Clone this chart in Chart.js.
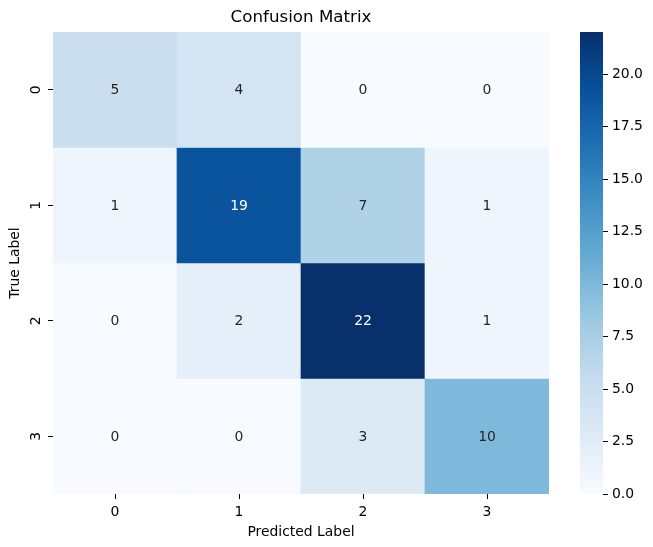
<!DOCTYPE html>
<html>
<head>
<meta charset="utf-8">
<script src="https://cdn.jsdelivr.net/npm/chart.js@4.4.1/dist/chart.umd.min.js"></script>
<style>
  html, body { margin: 0; padding: 0; background: #fff; }
  #wrap { position: relative; width: 653px; height: 547px; }
  #heat { position: absolute; left: 0; top: 0; }
  #cbar { position: absolute; left: 560px; top: 0; }
</style>
</head>
<body>
<div id="wrap">
  <canvas id="heat" width="602" height="547"></canvas>
  <canvas id="cbar" width="93" height="547"></canvas>
</div>
<script>
// confusion matrix data
const predLabels = ['0', '1', '2', '3'];
const trueLabels = ['0', '1', '2', '3'];
const row0 = [5, 4, 0, 0];
const row1 = [1, 19, 7, 1];
const row2 = [0, 2, 22, 1];
const row3 = [0, 0, 3, 10];
const matrix = [row0, row1, row2, row3];
const vmin = 0;
const vmax = 22;
const cbarTicks = [0, 2.5, 5, 7.5, 10, 12.5, 15, 17.5, 20];

// matplotlib "Blues"
const blues = ['#f7fbff', '#deebf7', '#c6dbef', '#9ecae1', '#6baed6', '#4292c6', '#2171b5', '#08519c', '#08306b'];

function hexToRgb(h) {
    return [parseInt(h.slice(1, 3), 16), parseInt(h.slice(3, 5), 16), parseInt(h.slice(5, 7), 16)];
}
function cmapRgb(v) {
    let t = (v - vmin) / (vmax - vmin);
    t = Math.max(0, Math.min(1, t));
    const pos = t * (blues.length - 1);
    const i = Math.min(Math.floor(pos), blues.length - 2);
    const f = pos - i;
    const a = hexToRgb(blues[i]), b = hexToRgb(blues[i + 1]);
    return a.map((c, k) => Math.round(c + (b[k] - c) * f));
}
function cmap(v) {
    const c = cmapRgb(v);
    return `rgb(${c[0]}, ${c[1]}, ${c[2]})`;
}
// seaborn picks the annotation colour from the luminance of the cell
function textColor(v) {
    const lin = cmapRgb(v).map(c => {
        c = c / 255;
        return c <= 0.03928 ? c / 12.92 : Math.pow((c + 0.055) / 1.055, 2.4);
    });
    const lum = 0.2126 * lin[0] + 0.7152 * lin[1] + 0.0722 * lin[2];
    return lum > 0.408 ? '#262626' : '#ffffff';
}

const FONT = 'DejaVu Sans';

const datasets = matrix.map((row, i) => ({
    label: 'true ' + trueLabels[i],
    data: row.map(() => [i, i + 1]),
    values: row,
    backgroundColor: row.map(v => cmap(v)),
    borderWidth: 0,
    grouped: false,
    barPercentage: 1,
    categoryPercentage: 1
}));

// writes the count inside each cell
const cellText = {
    id: 'cellText',
    afterDatasetsDraw(chart) {
        const ctx = chart.ctx;
        ctx.save();
        ctx.font = `13.9px "${FONT}"`;
        ctx.textAlign = 'center';
        ctx.textBaseline = 'middle';
        chart.data.datasets.forEach((ds, i) => {
            chart.getDatasetMeta(i).data.forEach((bar, j) => {
                const v = ds.values[j];
                ctx.fillStyle = textColor(v);
                ctx.fillText(String(v), bar.x, (bar.y + bar.base) / 2 + 1);
            });
        });
        ctx.restore();
    }
};

new Chart(document.getElementById('heat'), {
    type: 'bar',
    data: { labels: predLabels, datasets: datasets },
    options: {
        responsive: false,
        animation: false,
        layout: { padding: 0 },
        plugins: {
            legend: { display: false },
            tooltip: { enabled: false },
            title: {
                display: true,
                text: 'Confusion Matrix',
                color: '#000',
                font: { family: FONT, size: 16.7, weight: 'normal' },
                padding: { top: 8, bottom: 4 }
            }
        },
        scales: {
            x: {
                offset: true,
                grid: { offset: false, drawOnChartArea: false, drawTicks: true, tickLength: 5, tickColor: '#000' },
                border: { display: false },
                ticks: { color: '#000', font: { family: FONT, size: 13.9 }, padding: 5 },
                title: {
                    display: true, text: 'Predicted Label', color: '#000',
                    font: { family: FONT, size: 13.9 }, padding: { top: 2, bottom: 6 }
                },
                afterFit(scale) { scale.height = 53; }
            },
            y: {
                reverse: true,
                min: 0,
                max: trueLabels.length,
                grid: { drawOnChartArea: false, drawTicks: true, tickLength: 5, tickColor: '#000' },
                border: { display: false },
                afterBuildTicks(scale) {
                    scale.ticks = trueLabels.map((l, i) => ({ value: i + 0.5 }));
                },
                ticks: {
                    color: '#000', font: { family: FONT, size: 13.9 }, padding: 7,
                    minRotation: 90, maxRotation: 90, crossAlign: 'center',
                    callback: (v) => trueLabels[Math.floor(v)]
                },
                title: {
                    display: true, text: 'True Label', color: '#000',
                    font: { family: FONT, size: 13.9 }, padding: { top: 7, bottom: 2 }
                },
                afterFit(scale) { scale.width = 53; }
            },
            // empty right axis keeps room for the colour bar so the title centres over the cells
            yGap: {
                axis: 'y',
                position: 'right',
                grid: { display: false },
                border: { display: false },
                ticks: { display: false },
                afterFit(scale) { scale.width = 53; }
            }
        }
    },
    plugins: [cellText]
});

// colour bar
new Chart(document.getElementById('cbar'), {
    type: 'bar',
    data: {
        labels: [''],
        datasets: [{
            data: [[vmin, vmax]],
            backgroundColor(c) {
                const area = c.chart.chartArea;
                if (!area) return blues[0];
                const g = c.chart.ctx.createLinearGradient(0, area.bottom, 0, area.top);
                blues.forEach((col, k) => g.addColorStop(k / (blues.length - 1), col));
                return g;
            },
            borderWidth: 0,
            barPercentage: 1,
            categoryPercentage: 1
        }]
    },
    options: {
        responsive: false,
        animation: false,
        layout: { padding: { left: 20, right: 0, top: 32, bottom: 53 } },
        plugins: { legend: { display: false }, tooltip: { enabled: false } },
        scales: {
            x: { display: false },
            y: {
                position: 'right',
                min: vmin,
                max: vmax,
                grid: { drawOnChartArea: false, drawTicks: true, tickLength: 5, tickColor: '#000' },
                border: { display: false },
                afterBuildTicks(scale) {
                    scale.ticks = cbarTicks.map(v => ({ value: v }));
                },
                ticks: {
                    color: '#000', font: { family: FONT, size: 13.9 }, padding: 4,
                    callback: (v) => Number(v).toFixed(1)
                },
                afterFit(scale) { scale.width = 50; }
            }
        }
    }
});
</script>
</body>
</html>
